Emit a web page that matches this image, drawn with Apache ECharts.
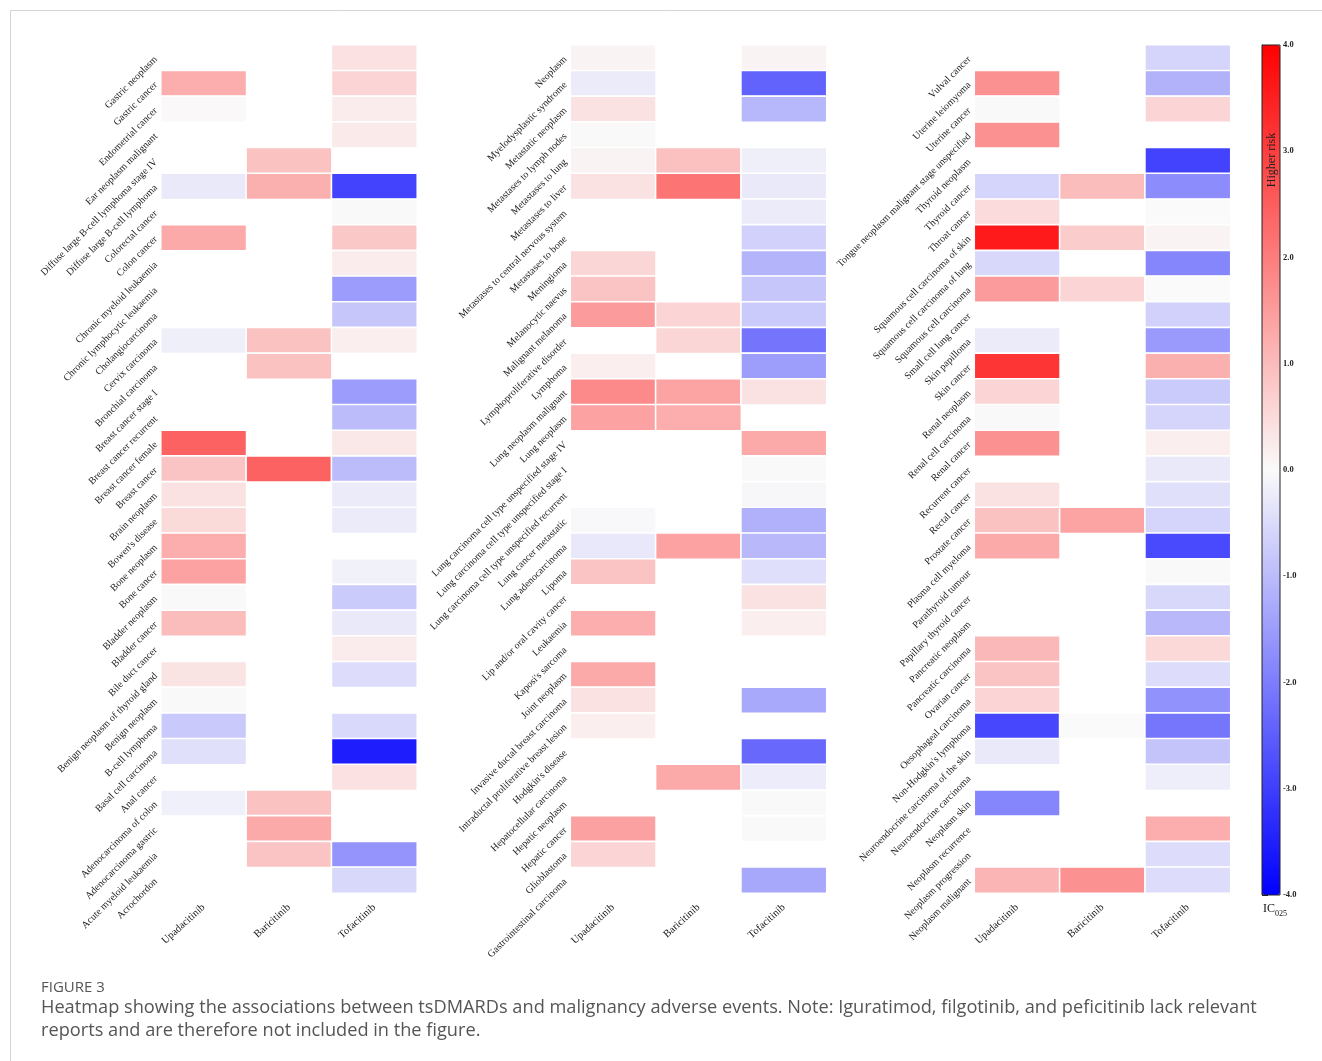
<!DOCTYPE html>
<html>
<head>
<meta charset="utf-8">
<script src="https://cdn.jsdelivr.net/npm/echarts@6/dist/echarts.min.js"></script>
<style>
  html, body { margin: 0; padding: 0; background: #fff; }
  #chart { width: 1322px; height: 1061px; }
</style>
</head>
<body>
<div id="chart"></div>
<script>
// Drugs on the x axis of every panel
const drugs = ['Upadacitinib', 'Baricitinib', 'Tofacitinib'];

// Panel 1 — adverse events (top to bottom) and IC025 per drug (null = no report)
const eventsA = ['Gastric neoplasm', 'Gastric cancer', 'Endometrial cancer', 'Ear neoplasm malignant',
  'Diffuse large B-cell lymphoma stage IV', 'Diffuse large B-cell lymphoma', 'Colorectal cancer', 'Colon cancer',
  'Chronic myeloid leukaemia', 'Chronic lymphocytic leukaemia', 'Cholangiocarcinoma', 'Cervix carcinoma',
  'Bronchial carcinoma', 'Breast cancer stage I', 'Breast cancer recurrent', 'Breast cancer female',
  'Breast cancer', 'Brain neoplasm', "Bowen's disease", 'Bone neoplasm', 'Bone cancer', 'Bladder neoplasm',
  'Bladder cancer', 'Bile duct cancer', 'Benign neoplasm of thyroid gland', 'Benign neoplasm', 'B-cell lymphoma',
  'Basal cell carcinoma', 'Anal cancer', 'Adenocarcinoma of colon', 'Adenocarcinoma gastric',
  'Acute myeloid leukaemia', 'Acrochordon'];
const upaA  = [null, 1.24, 0.03, null, null, -0.27, null, 1.29, null, null, null, -0.17, null, null, null, 2.43,
  0.86, 0.39, 0.52, 1.24, 1.41, 0.02, 0.99, null, 0.37, 0.02, -0.78, -0.42, null, -0.16, null, null, null];
const bariA = [null, null, null, null, 0.90, 1.18, null, null, null, null, null, 0.90, 0.90, null, null, null,
  2.43, null, null, null, null, null, null, null, null, null, null, null, null, 0.90, 1.30, 0.86, null];
const tofaA = [0.40, 0.60, 0.22, 0.25, null, -2.93, -0.02, 0.80, 0.22, -1.50, -0.83, 0.20, null, -1.50, -0.99, 0.30,
  -0.99, -0.24, -0.24, null, -0.14, -0.77, -0.27, 0.22, -0.47, null, -0.53, -3.53, 0.40, null, null, -1.63, -0.55];

// Panel 2
const eventsB = ['Neoplasm', 'Myelodysplastic syndrome', 'Metastatic neoplasm', 'Metastases to lymph nodes',
  'Metastases to lung', 'Metastases to liver', 'Metastases to central nervous system', 'Metastases to bone',
  'Meningioma', 'Melanocytic naevus', 'Malignant melanoma', 'Lymphoproliferative disorder', 'Lymphoma',
  'Lung neoplasm malignant', 'Lung neoplasm', 'Lung carcinoma cell type unspecified stage IV',
  'Lung carcinoma cell type unspecified stage I', 'Lung carcinoma cell type unspecified recurrent',
  'Lung cancer metastatic', 'Lung adenocarcinoma', 'Lipoma', 'Lip and/or oral cavity cancer', 'Leukaemia',
  "Kaposi's sarcoma", 'Joint neoplasm', 'Invasive ductal breast carcinoma', 'Intraductal proliferative breast lesion',
  "Hodgkin's disease", 'Hepatocellular carcinoma', 'Hepatic neoplasm', 'Hepatic cancer', 'Glioblastoma',
  'Gastrointestinal carcinoma'];
const upaB  = [0.12, -0.24, 0.39, 0.02, 0.12, 0.39, null, null, 0.58, 0.86, 1.52, null, 0.20, 1.79, 1.41, null,
  null, null, -0.04, -0.29, 0.86, null, 1.24, null, 1.30, 0.39, 0.20, null, null, null, 1.43, 0.60, null];
const bariB = [null, null, null, null, 0.93, 2.15, null, null, null, null, 0.60, 0.58, null, 1.38, 1.24, null,
  null, null, null, 1.41, null, null, null, null, null, null, null, null, 1.30, null, null, null, null];
const tofaB = [0.12, -2.43, -1.08, null, -0.17, -0.27, -0.24, -0.66, -1.12, -0.83, -0.75, -2.15, -1.49, 0.39, null, 1.30,
  0.02, -0.05, -1.18, -1.05, -0.44, 0.39, 0.20, null, null, -1.30, null, -2.34, -0.22, 0.01, 0.01, null, -1.33];

// Panel 3
const eventsC = ['Vulval cancer', 'Uterine leiomyoma', 'Uterine cancer', 'Tongue neoplasm malignant stage unspecified',
  'Thyroid neoplasm', 'Thyroid cancer', 'Throat cancer', 'Squamous cell carcinoma of skin',
  'Squamous cell carcinoma of lung', 'Squamous cell carcinoma', 'Small cell lung cancer', 'Skin papilloma',
  'Skin cancer', 'Renal neoplasm', 'Renal cell carcinoma', 'Renal cancer', 'Recurrent cancer', 'Rectal cancer',
  'Prostate cancer', 'Plasma cell myeloma', 'Parathyroid tumour', 'Papillary thyroid cancer', 'Pancreatic neoplasm',
  'Pancreatic carcinoma', 'Ovarian cancer', 'Oesophageal carcinoma', "Non-Hodgkin's lymphoma",
  'Neuroendocrine carcinoma of the skin', 'Neuroendocrine carcinoma', 'Neoplasm skin', 'Neoplasm recurrence',
  'Neoplasm progression', 'Neoplasm malignant'];
const upaC  = [null, 1.68, 0.02, 1.68, null, -0.60, 0.49, 3.59, -0.55, 1.52, null, -0.24, 3.15, 0.60, -0.02, 1.68,
  null, 0.39, 0.90, 1.29, null, null, null, 1.05, 0.86, 0.60, -2.87, -0.27, null, -1.87, null, null, 1.11];
const bariC = [null, null, null, null, null, 0.99, null, 0.73, null, 0.60, null, null, null, null, null, null,
  null, null, 1.37, null, null, null, null, null, null, null, 0.00, null, null, null, null, null, 1.68];
const tofaC = [-0.60, -1.16, 0.60, null, -2.93, -1.76, 0.00, 0.12, -1.87, 0.00, -0.66, -1.53, 1.18, -0.75, -0.60, 0.20,
  -0.27, -0.42, -0.60, -2.84, 0.02, -0.55, -1.05, 0.53, -0.47, -1.67, -2.12, -0.86, -0.20, null, 1.24, -0.47, -0.47];

// Colour-bar ticks
const scaleTicks = [-4, -3, -2, -1, 0, 1, 2, 3, 4];

function cells(cols) {
  const out = [];
  cols.forEach((col, x) => col.forEach((v, y) => { if (v !== null) out.push([x, y, v]); }));
  return out;
}

const panels = [
  { left: 161, events: eventsA, data: cells([upaA, bariA, tofaA]) },
  { left: 570.5, events: eventsB, data: cells([upaB, bariB, tofaB]) },
  { left: 974.5, events: eventsC, data: cells([upaC, bariC, tofaC]) }
];

const serif = 'Liberation Serif';
const gridTop = 45, gridH = 848, gridW = 256;

const grids = panels.map(p => ({ left: p.left, top: gridTop, width: gridW, height: gridH }));
grids.push({ left: 1262, top: 45, width: 18, height: 850 });

const xAxes = panels.map((p, i) => ({
  type: 'category', gridIndex: i, data: drugs,
  axisLine: { show: false }, axisTick: { show: false }, splitLine: { show: false },
  axisLabel: { rotate: 42, margin: 13, fontFamily: serif, fontSize: 10.5, color: '#1a1a1a', interval: 0 }
}));
xAxes.push({ type: 'value', gridIndex: 3, show: false, min: 0, max: 1 });

const yAxes = panels.map((p, i) => ({
  type: 'category', gridIndex: i, data: p.events, inverse: true,
  axisLine: { show: false }, axisTick: { show: false }, splitLine: { show: false },
  axisLabel: { rotate: 45, margin: 5, fontFamily: serif, fontSize: 10, color: '#1a1a1a', interval: 0 }
}));
yAxes.push({
  type: 'value', gridIndex: 3, position: 'right', min: scaleTicks[0], max: scaleTicks[scaleTicks.length - 1], interval: 1,
  axisLine: { show: true, lineStyle: { color: '#222', width: 1 } },
  axisTick: { show: true, length: 6, lineStyle: { color: '#222' } },
  splitLine: { show: false },
  axisLabel: { margin: 3, fontFamily: serif, fontSize: 8.5, fontWeight: 'bold', color: '#222',
    formatter: v => v.toFixed(1) }
});

const series = panels.map((p, i) => ({
  type: 'heatmap', xAxisIndex: i, yAxisIndex: i, data: p.data,
  itemStyle: { borderColor: '#ffffff', borderWidth: 1.6 },
  emphasis: { disabled: true }
}));

const chart = echarts.init(document.getElementById('chart'), null, { renderer: 'canvas' });
chart.setOption({
  backgroundColor: '#ffffff',
  animation: false,
  grid: grids,
  xAxis: xAxes,
  yAxis: yAxes,
  visualMap: {
    type: 'continuous', seriesIndex: [0, 1, 2], dimension: 2,
    min: -4, max: 4, calculable: false, hoverLink: false,
    orient: 'vertical', left: 1262, top: 45, itemWidth: 18, itemHeight: 850,
    padding: 0, text: null, showLabel: false,
    inRange: { color: ['#0000ff', '#fafafa', '#ff0000'] }
  },
  series: series,
  graphic: [
    { type: 'rect', silent: true, z: -1, shape: { x: 10.5, y: 10.5, width: 1330, height: 1070 },
      style: { fill: 'none', stroke: '#d4d4d4', lineWidth: 1 } },
    { type: 'rect', silent: true, z: 10, shape: { x: 1262, y: 45, width: 18, height: 850 },
      style: { fill: 'none', stroke: '#222', lineWidth: 1 } },
    { type: 'text', z: 11, x: 1272, y: 160, rotation: Math.PI / 2,
      style: { text: 'Higher risk', font: '12px "Liberation Serif"', fill: '#222', align: 'center', verticalAlign: 'middle' } },
    { type: 'text', z: 11, x: 1263, y: 903,
      style: { text: '{a|IC}{b|025}', rich: {
        a: { fontFamily: serif, fontSize: 12, fill: '#111', verticalAlign: 'top' },
        b: { fontFamily: serif, fontSize: 8, fill: '#111', padding: [7, 0, 0, 0] } } } },
    { type: 'text', x: 41, y: 980,
      style: { text: 'FIGURE 3', font: '15px "Open Sans"', fill: '#555' } },
    { type: 'text', x: 41, y: 997,
      style: { text: 'Heatmap showing the associations between tsDMARDs and malignancy adverse events. Note: Iguratimod, filgotinib, and peficitinib lack relevant\nreports and are therefore not included in the figure.',
        font: '18.2px "Open Sans"', fill: '#555', lineHeight: 22.5 } }
  ]
});
</script>
</body>
</html>
